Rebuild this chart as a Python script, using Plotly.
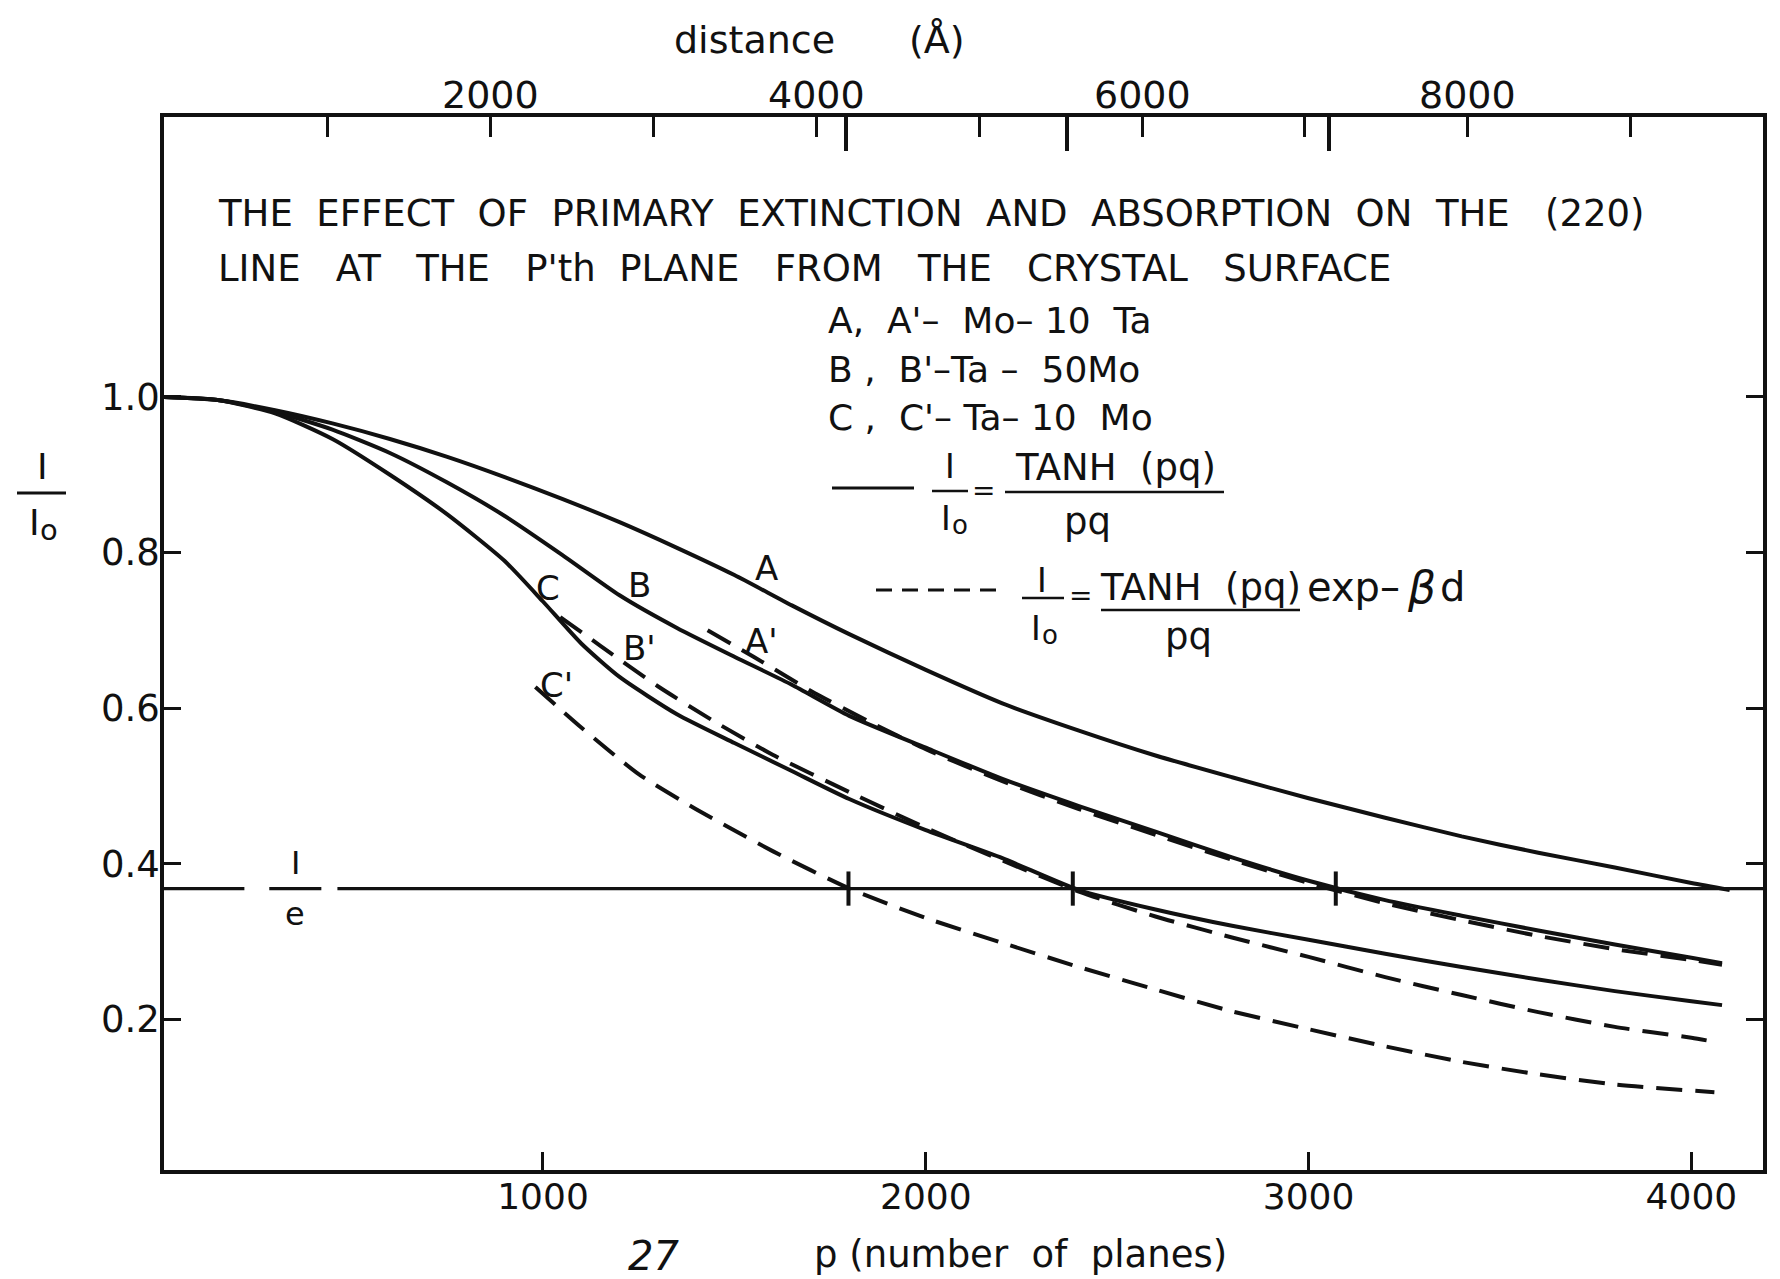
import numpy as np
import plotly.graph_objects as go

# ---------------- data ----------------
p_A = [0, 150, 300, 450, 600, 750, 900, 1050, 1200, 1350, 1500, 1650, 1800, 2000,
       2200, 2400, 2600, 2800, 3000, 3200, 3400, 3600, 3800, 4000, 4100]
I_A = [1.000, 0.996, 0.983, 0.966, 0.946, 0.923, 0.897, 0.869, 0.839, 0.806, 0.771,
       0.732, 0.695, 0.649, 0.606, 0.571, 0.539, 0.511, 0.484, 0.459, 0.435, 0.414,
       0.395, 0.375, 0.366]

p_B = [0, 150, 300, 450, 600, 750, 900, 1050, 1200, 1350, 1500, 1650, 1800, 2000,
       2200, 2400, 2600, 2800, 3000, 3200, 3400, 3600, 3800, 4000, 4080]
I_B = [1.000, 0.996, 0.981, 0.958, 0.928, 0.890, 0.847, 0.797, 0.745, 0.703, 0.666,
       0.630, 0.590, 0.549, 0.509, 0.474, 0.441, 0.408, 0.378, 0.353, 0.333, 0.314,
       0.296, 0.279, 0.272]

p_C = [0, 150, 300, 450, 600, 750, 900, 1000, 1100, 1200, 1350, 1500, 1650, 1800,
       2000, 2200, 2400, 2600, 2800, 3000, 3200, 3400, 3600, 3800, 4000, 4080]
I_C = [1.000, 0.996, 0.979, 0.946, 0.900, 0.849, 0.789, 0.737, 0.683, 0.640, 0.592,
       0.555, 0.519, 0.483, 0.443, 0.407, 0.366, 0.341, 0.320, 0.302, 0.284, 0.267,
       0.251, 0.236, 0.223, 0.218]

p_A2 = [1430, 1550, 1700, 1850, 2000, 2200, 2400, 2600, 2800, 3000, 3200, 3400,
        3600, 3800, 4000, 4080]
I_A2 = [0.700, 0.666, 0.622, 0.583, 0.547, 0.506, 0.470, 0.437, 0.405, 0.375,
        0.349, 0.327, 0.307, 0.290, 0.276, 0.270]

p_B2 = [1045, 1150, 1300, 1450, 1600, 1800, 2000, 2200, 2400, 2600, 2800, 3000,
        3200, 3400, 3600, 3800, 4000, 4070]
I_B2 = [0.717, 0.680, 0.628, 0.582, 0.540, 0.492, 0.446, 0.404, 0.364, 0.332,
        0.305, 0.280, 0.254, 0.231, 0.209, 0.190, 0.176, 0.170]

p_C2 = [980, 1100, 1250, 1400, 1600, 1800, 2000, 2200, 2400, 2600, 2800, 3000,
        3200, 3400, 3600, 3800, 4060]
I_C2 = [0.627, 0.575, 0.515, 0.470, 0.416, 0.368, 0.330, 0.298, 0.267, 0.238,
        0.210, 0.187, 0.165, 0.145, 0.129, 0.116, 0.106]

# curve labels: (text, p, I/I0)
curve_labels = [("A", 1584, 0.780), ("A'", 1571, 0.686), ("B", 1252, 0.758),
                ("B'", 1252, 0.677), ("C", 1014, 0.754), ("C'", 1035, 0.630)]

# planes at which curves reach 1/e, and the same depths on the distance scale
efold_p = [1798, 2384, 3071]
efold_dist = [4180, 5540, 7150]

p_ticks = [1000, 2000, 3000, 4000]
y_ticks = [0.2, 0.4, 0.6, 0.8, 1.0]
y_tick_text = ["0.2", "0.4", "0.6", "0.8", "1.0"]
dist_ticks = [1000, 2000, 3000, 4000, 5000, 6000, 7000, 8000, 9000]
dist_labels = [2000, 4000, 6000, 8000]

ONE_OVER_E = 1 / np.e
p_range = [10, 4187]
dist_range = [-7, 9813]
y_range = [0.006, 1.36]

# ---------------- styling / layout ----------------
W, H = 1780, 1279
L, R, T, B = 164, 1763, 117, 1170
INK = "#111111"
FONT = "DejaVu Sans"
LW = 4
DASH = "26px,13px"


def P(X, Y):
    return dict(x=(X - L) / (R - L), y=(B - Y) / (B - T), xref="paper", yref="paper")


def txt(X, Y, s, size=34, xanchor="center", italic=False):
    d = P(X, Y)
    d.update(text=s, showarrow=False, xanchor=xanchor, yanchor="middle",
             font=dict(family=FONT, size=size, color=INK,
                       style="italic" if italic else "normal"))
    return d


def bar(X0, X1, Y, width=2.5, dash=None):
    a, b = P(X0, Y), P(X1, Y)
    return dict(type="line", xref="paper", yref="paper", x0=a["x"], x1=b["x"],
                y0=a["y"], y1=b["y"], line=dict(color=INK, width=width, dash=dash))


def i_naught(X, Y, size):
    """'I' with a lowered small 'o' (I sub o)."""
    return [txt(X, Y, "I", size=size),
            txt(X + 0.42 * size, Y + 0.22 * size, "o", size=round(size * 0.8))]


fig = go.Figure()

solid = dict(color=INK, width=LW, shape="spline", smoothing=0.6)
dashed = dict(color=INK, width=LW, shape="spline", smoothing=0.6, dash=DASH)
for px_, iy in [(p_A, I_A), (p_B, I_B), (p_C, I_C)]:
    fig.add_trace(go.Scatter(x=px_, y=iy, mode="lines", line=solid,
                             showlegend=False, hoverinfo="skip"))
for px_, iy in [(p_A2, I_A2), (p_B2, I_B2), (p_C2, I_C2)]:
    fig.add_trace(go.Scatter(x=px_, y=iy, mode="lines", line=dashed,
                             showlegend=False, hoverinfo="skip"))

# 1/e reference line with a gap for its label
gap_lo, gap_hi = 220, 463
fig.add_trace(go.Scatter(x=[p_range[0], gap_lo, None, gap_hi, p_range[1]],
                         y=[ONE_OVER_E, ONE_OVER_E, None, ONE_OVER_E, ONE_OVER_E],
                         mode="lines", line=dict(color=INK, width=3.2),
                         showlegend=False, hoverinfo="skip"))
# label fraction bar
fig.add_trace(go.Scatter(x=[285, 421], y=[ONE_OVER_E, ONE_OVER_E], mode="lines",
                         line=dict(color=INK, width=3.2), showlegend=False,
                         hoverinfo="skip"))
# vertical marks where curves cross 1/e
mx, my = [], []
for p in efold_p:
    mx += [p, p, None]
    my += [ONE_OVER_E - 0.022, ONE_OVER_E + 0.022, None]
fig.add_trace(go.Scatter(x=mx, y=my, mode="lines", line=dict(color=INK, width=4),
                         showlegend=False, hoverinfo="skip"))

# invisible traces to activate top axes
fig.add_trace(go.Scatter(x=dist_ticks, y=[0.5] * len(dist_ticks), xaxis="x2",
                         mode="markers", marker=dict(opacity=0), showlegend=False,
                         hoverinfo="skip"))
fig.add_trace(go.Scatter(x=efold_dist, y=[0.5] * len(efold_dist), xaxis="x3",
                         mode="markers", marker=dict(opacity=0), showlegend=False,
                         hoverinfo="skip"))

fig.update_layout(
    width=W, height=H,
    margin=dict(l=L, r=W - R, t=T, b=H - B, pad=0),
    paper_bgcolor="white", plot_bgcolor="white",
    showlegend=False,
    xaxis=dict(range=p_range, showline=True, linewidth=3.5, linecolor=INK,
               ticks="inside", ticklen=18, tickwidth=3, tickcolor=INK,
               tickvals=p_ticks, ticktext=[str(v) for v in p_ticks],
               tickfont=dict(family=FONT, size=36, color=INK),
               showgrid=False, zeroline=False, ticklabelstandoff=-8),
    xaxis2=dict(range=dist_range, overlaying="x", side="top", anchor="y",
                showline=True, linewidth=3.5, linecolor=INK,
                ticks="inside", ticklen=20, tickwidth=3, tickcolor=INK,
                tickvals=dist_ticks, showticklabels=False,
                showgrid=False, zeroline=False),
    xaxis3=dict(range=dist_range, overlaying="x", side="top", anchor="y",
                showline=False, ticks="inside", ticklen=34, tickwidth=3.5,
                tickcolor=INK, tickvals=efold_dist, showticklabels=False,
                showgrid=False, zeroline=False),
    yaxis=dict(range=y_range, showline=True, linewidth=3.5, linecolor=INK,
               mirror="ticks", ticks="inside", ticklen=17, tickwidth=3,
               tickcolor=INK, tickvals=y_ticks, ticktext=y_tick_text,
               tickfont=dict(family=FONT, size=37, color=INK),
               showgrid=False, zeroline=False, ticklabelstandoff=-7),
)

ann = []
# top (distance) tick labels
for v in dist_labels:
    ann.append(dict(x=v, xref="x2", y=1, yref="paper", yanchor="bottom", yshift=-2,
                    text=str(v), showarrow=False,
                    font=dict(family=FONT, size=38, color=INK)))
# curve labels
for s, p, v in curve_labels:
    ann.append(dict(x=p, y=v, xref="x", yref="y", text=s, showarrow=False,
                    font=dict(family=FONT, size=34, color=INK)))
# 1/e label
ann.append(dict(x=353, y=0.401, xref="x", yref="y", text="I", showarrow=False,
                font=dict(family=FONT, size=32, color=INK)))
ann.append(dict(x=353, y=0.335, xref="x", yref="y", text="e", showarrow=False,
                font=dict(family=FONT, size=32, color=INK)))

# title text
ann.append(txt(216, 213,
               "THE  EFFECT  OF  PRIMARY  EXTINCTION  AND  ABSORPTION  ON  THE   (220)",
               size=37, xanchor="left"))
ann.append(txt(216, 268,
               "LINE   AT   THE   P'th  PLANE   FROM   THE   CRYSTAL   SURFACE",
               size=37, xanchor="left"))
# alloy key
ann.append(txt(826, 320, "A,  A'–  Mo– 10  Ta", size=36, xanchor="left"))
ann.append(txt(826, 369, "B ,  B'–Ta –  50Mo", size=36, xanchor="left"))
ann.append(txt(826, 418, "C ,  C'– Ta– 10  Mo", size=36, xanchor="left"))

# formula 1 (solid)
ann.append(txt(950, 466, "I", size=33))
ann += i_naught(946, 518, 33)
ann.append(txt(983, 491, "=", size=28))
ann.append(txt(1115, 467, "TANH  (pq)", size=37))
ann.append(txt(1087, 521, "pq", size=37))
# formula 2 (dashed)
ann.append(txt(1042, 580, "I", size=33))
ann += i_naught(1036, 628, 33)
ann.append(txt(1080, 595, "=", size=28))
ann.append(txt(1200, 587, "TANH  (pq)", size=37))
ann.append(txt(1305, 587, "exp–", size=40, xanchor="left"))
ann.append(txt(1421, 587, "β", size=44, italic=True))
ann.append(txt(1452, 587, "d", size=40))
ann.append(txt(1188, 636, "pq", size=37))

# axis titles
ann.append(txt(43, 466, "I", size=36))
ann += i_naught(34, 522, 36)
ann.append(txt(754, 40, "distance", size=38))
ann.append(txt(937, 40, "(Å)", size=38))
ann.append(txt(1020, 1254, "p (number  of  planes)", size=37))
ann.append(txt(653, 1256, "27", size=40, italic=True))

shapes = [
    bar(832, 914, 488, width=3),
    bar(932, 968, 491),
    bar(1005, 1224, 492),
    bar(876, 999, 590, width=3, dash="16px,10px"),
    bar(1022, 1064, 598),
    bar(1101, 1300, 610),
    bar(17, 66, 493, width=3),
]

fig.update_layout(annotations=ann, shapes=shapes)
fig.write_html("out.html")
